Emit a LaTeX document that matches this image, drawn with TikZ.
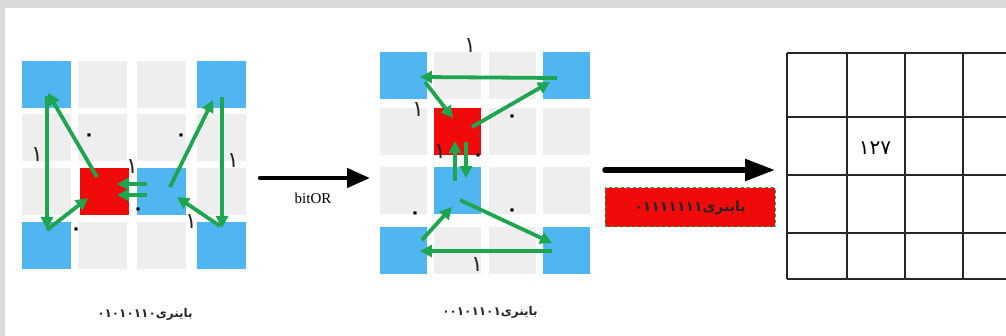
\documentclass[tikz,border=0pt]{standalone}
\usepackage{fontspec}
\usetikzlibrary{arrows.meta}
\TeXXeTstate=1
\setmainfont{Liberation Serif}
\newfontfamily\arabicfont[Script=Arabic]{DejaVu Sans}
\definecolor{cellblue}{RGB}{80,182,242}
\definecolor{cellred}{RGB}{240,10,10}
\definecolor{cellgray}{RGB}{238,238,238}
\definecolor{arrgreen}{RGB}{30,165,80}
\definecolor{framegray}{RGB}{217,217,217}
\begin{document}
\begin{tikzpicture}[x=1pt,y=-1pt,
  cellL/.style={minimum width=49pt,minimum height=47pt,inner sep=0pt,draw=none,fill=cellgray},
  cellM/.style={minimum width=47pt,minimum height=47pt,inner sep=0pt,draw=none,fill=cellgray},
  garrow/.style={draw=arrgreen,line width=3.8pt,-{Triangle[length=12pt,width=12pt]}},
  barrow/.style={draw=black,line width=4.5pt,line cap=round,-{Triangle[length=23pt,width=19pt]}},
  bigarrow/.style={draw=black,line width=5.5pt,line cap=round,-{Triangle[length=30pt,width=21pt]}},
  bitlabel/.style={font=\arabicfont\fontsize{22}{22}\selectfont,inner sep=0pt,text=black!85},
  zerolabel/.style={font=\arabicfont\bfseries\fontsize{18}{18}\selectfont,inner sep=0pt,text=black},
  caption/.style={font=\arabicfont\bfseries\fontsize{12}{12}\selectfont,inner sep=0pt,text=black!85},
  gridline/.style={draw=black!85,line width=1.8pt},
  redbox/.style={fill=cellred,draw=arrgreen,dashed,line width=1pt,minimum width=170pt,minimum height=39pt,inner sep=0pt}]
\useasboundingbox (0,0) rectangle (1006,336);
\fill[framegray] (0,0) rectangle (1006,336);
\fill[white] (5,8) rectangle (1006,336);

% ---------- left grid ----------
\node[cellL,fill=cellblue] (L11) at (46.5,85) {};
\node[cellL] (L12) at (102.5,85) {};
\node[cellL] (L13) at (161.5,85) {};
\node[cellL,fill=cellblue] (L14) at (221.5,85) {};
\node[cellL] (L21) at (46.5,138) {};
\node[cellL] (L22) at (102.5,138) {};
\node[cellL] (L23) at (161.5,138) {};
\node[cellL] (L24) at (221.5,138) {};
\node[cellL] (L31) at (46.5,191.5) {};
\node[cellL,fill=cellred] (L32) at (104,191.5) {};
\node[cellL,fill=cellblue] (L33) at (161.5,191.5) {};
\node[cellL] (L34) at (221.5,191.5) {};
\node[cellL,fill=cellblue] (L41) at (46.5,246) {};
\node[cellL] (L42) at (102.5,246) {};
\node[cellL] (L43) at (161.5,246) {};
\node[cellL,fill=cellblue] (L44) at (221.5,246) {};

\draw[garrow] ([shift={(-7,-14.5)}]L32.center) -- ([shift={(1.5,8)}]L11.center);
\draw[garrow] ([shift={(0.5,11)}]L11.center) -- ([shift={(0.5,-17)}]L41.center);
\draw[garrow] ([shift={(0.5,-16)}]L41.center) -- ([shift={(-16,6.5)}]L32.center);
\draw[garrow] ([shift={(-14.5,-7.5)}]L33.center) -- ([shift={(13,-7.5)}]L32.center);
\draw[garrow] ([shift={(-14.5,3.5)}]L33.center) -- ([shift={(13,3.5)}]L32.center);
\draw[garrow] ([shift={(8.5,-4.5)}]L33.center) -- ([shift={(-8.5,15)}]L14.center);
\draw[garrow] ([shift={(0.5,12)}]L14.center) -- ([shift={(0.5,-18)}]L44.center);
\draw[garrow] ([shift={(-1.5,-20)}]L44.center) -- ([shift={(15.5,5.5)}]L33.center);

\node[bitlabel] (lb1) at (37,155) {۱};
\node[zerolabel] (lb2) at (89,137) {۰};
\node[bitlabel] (lb3) at (132,167) {۱};
\node[zerolabel] (lb4) at (181,137) {۰};
\node[bitlabel] (lb5) at (233,161) {۱};
\node[zerolabel] (lb6) at (138,211) {۰};
\node[bitlabel] (lb7) at (191,222) {۱};
\node[zerolabel] (lb8) at (76,231) {۰};

\node[caption] (capL) at (145,314) {\beginR باینری\beginL ۰۱۰۱۰۱۱۰\endL\endR};

% ---------- bitOR arrow ----------
\coordinate (o1) at (260,178);
\coordinate (o2) at (370,178);
\draw[barrow] (o1) -- (o2);
\node[font=\fontsize{15}{15}\selectfont,inner sep=0pt] (bitor) at (313,198) {bitOR};

% ---------- middle grid ----------
\node[cellM,fill=cellblue] (M11) at (403.5,75.5) {};
\node[cellM] (M12) at (457.5,75.5) {};
\node[cellM] (M13) at (512.5,75.5) {};
\node[cellM,fill=cellblue] (M14) at (566.5,75.5) {};
\node[cellM] (M21) at (403.5,131.5) {};
\node[cellM,fill=cellred] (M22) at (457.5,131.5) {};
\node[cellM] (M23) at (512.5,131.5) {};
\node[cellM] (M24) at (566.5,131.5) {};
\node[cellM] (M31) at (403.5,190.5) {};
\node[cellM,fill=cellblue] (M32) at (457.5,190.5) {};
\node[cellM] (M33) at (512.5,190.5) {};
\node[cellM] (M34) at (566.5,190.5) {};
\node[cellM,fill=cellblue] (M41) at (403.5,250.5) {};
\node[cellM] (M42) at (457.5,250.5) {};
\node[cellM] (M43) at (512.5,250.5) {};
\node[cellM,fill=cellblue] (M44) at (566.5,250.5) {};

\draw[garrow] ([shift={(-9.5,2.5)}]M14.center) -- ([shift={(16.5,1.5)}]M11.center);
\draw[garrow] ([shift={(21.5,6.5)}]M11.center) -- ([shift={(-4.5,-13.5)}]M22.center);
\draw[garrow] ([shift={(14.5,-4.5)}]M22.center) -- ([shift={(-16.5,6.5)}]M14.center);
\draw[garrow] ([shift={(-2.5,-9.5)}]M32.center) -- ([shift={(-2.5,9.5)}]M22.center);
\draw[garrow] ([shift={(8.5,10.5)}]M22.center) -- ([shift={(8.5,-12.5)}]M32.center);
\draw[garrow] ([shift={(2.5,9.5)}]M32.center) -- ([shift={(-14.5,-7.5)}]M44.center);
\draw[garrow] ([shift={(-14.5,0.5)}]M44.center) -- ([shift={(16.5,0.5)}]M41.center);
\draw[garrow] ([shift={(18.5,-10.5)}]M41.center) -- ([shift={(-5.5,16.5)}]M32.center);

\node[bitlabel] (mb1) at (470,46) {۱};
\node[bitlabel] (mb2) at (418,110) {۱};
\node[zerolabel] (mb3) at (512,118) {۰};
\node[bitlabel] (mb4) at (440,152) {۱};
\node[zerolabel] (mb5) at (478,157) {۰};
\node[zerolabel] (mb6) at (415,215) {۰};
\node[zerolabel] (mb7) at (512,212) {۰};
\node[bitlabel] (mb8) at (477,265) {۱};

\node[caption] (capM) at (490,312) {\beginR باینری\beginL ۰۰۱۰۱۱۰۱\endL\endR};

% ---------- result arrow and box ----------
\coordinate (r1) at (605,170);
\coordinate (r2) at (775,170);
\draw[bigarrow] (r1) -- (r2);
\node[redbox] (res) at (690,207.5) {};
\node[font=\arabicfont\bfseries\fontsize{14}{14}\selectfont,inner sep=0pt,text=black!85] (restext) at (res.center) {\beginR باینری\beginL ۰۱۱۱۱۱۱۱\endL\endR};

% ---------- right grid ----------
\foreach \yy in {53,117,175,233,279} \draw[gridline] (787,\yy) -- (1006,\yy);
\foreach \xx in {787,847,905,963} \draw[gridline] (\xx,53) -- (\xx,279);
\node[font=\arabicfont\fontsize{20}{20}\selectfont,inner sep=0pt] (n127) at (875,148) {۱۲۷};
\end{tikzpicture}
\end{document}
